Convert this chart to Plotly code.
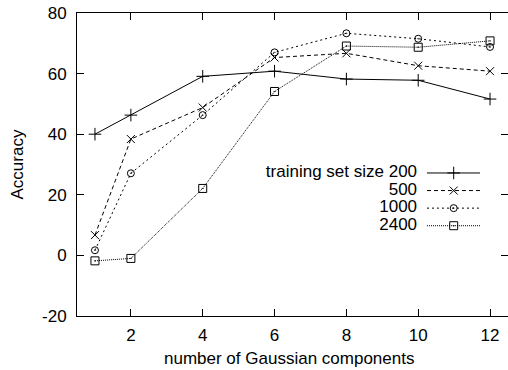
import plotly.graph_objects as go

components = [1, 2, 4, 6, 8, 10, 12]
series_names = ["training set size 200", "500", "1000", "2400"]
acc_200 = [40.0, 46.3, 59.1, 60.8, 58.2, 57.8, 51.6]
acc_500 = [6.7, 38.4, 48.8, 65.3, 66.7, 62.6, 60.8]
acc_1000 = [1.7, 27.1, 46.3, 67.0, 73.3, 71.5, 68.8]
acc_2400 = [-1.8, -1.0, 22.1, 54.1, 69.1, 68.7, 70.8]
x_ticks = [2, 4, 6, 8, 10, 12]
y_ticks = [-20, 0, 20, 40, 60, 80]
y_ticklabels = ["-20", "0", "20", "40", "60", "80"]

series = [acc_200, acc_500, acc_1000, acc_2400]
dashes = ["solid", "4px,3px", "2px,3px", "1px,1px"]
symbols = ["cross-thin-open", "x-thin-open", "circle-open-dot", "square-open-dot"]
sizes = [9, 8, 7, 8]

FONT = "Liberation Sans"
FS = 17
fig = go.Figure()

for vals, dash, sym, sz, name in zip(series, dashes, symbols, sizes, series_names):
    fig.add_trace(go.Scatter(
        x=components, y=vals, mode="lines+markers", name=name,
        line=dict(color="black", width=1, dash=dash),
        marker=dict(symbol=sym, size=sz, color="black", line=dict(color="black", width=1)),
        showlegend=False,
    ))

# custom gnuplot-style key (text right-aligned, sample to the right)
row_y = [0.472, 0.414, 0.356, 0.298]
for i, (dash, sym, sz, name) in enumerate(zip(dashes, symbols, sizes, series_names)):
    yy = row_y[i]
    fig.add_trace(go.Scatter(
        x=[0.812, 0.935], y=[yy, yy], mode="lines", xaxis="x2", yaxis="y2",
        line=dict(color="black", width=1, dash=dash), showlegend=False, hoverinfo="skip"))
    fig.add_trace(go.Scatter(
        x=[0.874], y=[yy], mode="markers", xaxis="x2", yaxis="y2",
        marker=dict(symbol=sym, size=sz, color="black", line=dict(color="black", width=1)),
        showlegend=False, hoverinfo="skip"))
    fig.add_trace(go.Scatter(
        x=[0.789], y=[yy], mode="text", text=[name], textposition="middle left",
        xaxis="x2", yaxis="y2", textfont=dict(family=FONT, size=FS, color="black"),
        showlegend=False, hoverinfo="skip"))

axis_common = dict(
    showgrid=False, zeroline=False, showline=True, linecolor="black", linewidth=1,
    mirror="ticks", ticks="inside", ticklen=7, tickwidth=1, tickcolor="black",
    tickfont=dict(family=FONT, size=FS, color="black"), automargin=False,
)
pw, ph = 508 - 77 - 0, 370 - 13 - 54
fig.update_layout(
    width=508, height=370,
    margin=dict(l=77, r=0, t=13, b=54),
    paper_bgcolor="white", plot_bgcolor="white",
    xaxis=dict(range=[0.5, 12.5], tickvals=x_ticks, ticklabelstandoff=4, **axis_common),
    yaxis=dict(range=[-20, 80], tickvals=y_ticks, ticktext=y_ticklabels,
               ticklabelstandoff=6, **axis_common),
    xaxis2=dict(range=[0, 1], overlaying="x", visible=False),
    yaxis2=dict(range=[0, 1], overlaying="y", visible=False),
    showlegend=False,
    annotations=[
        dict(text="number of Gaussian components", x=(289 - 77) / pw, y=(316 - 358) / ph,
             xref="paper", yref="paper", showarrow=False, xanchor="center", yanchor="middle",
             font=dict(family=FONT, size=FS, color="black")),
        dict(text="Accuracy", x=(17 - 77) / pw, y=0.5, xref="paper", yref="paper",
             showarrow=False, textangle=-90, xanchor="center", yanchor="middle",
             font=dict(family=FONT, size=FS, color="black")),
    ],
)

fig.write_html("out.html", config={"displayModeBar": False},
               post_script="document.body.style.margin='0';document.body.style.overflow='hidden';")
